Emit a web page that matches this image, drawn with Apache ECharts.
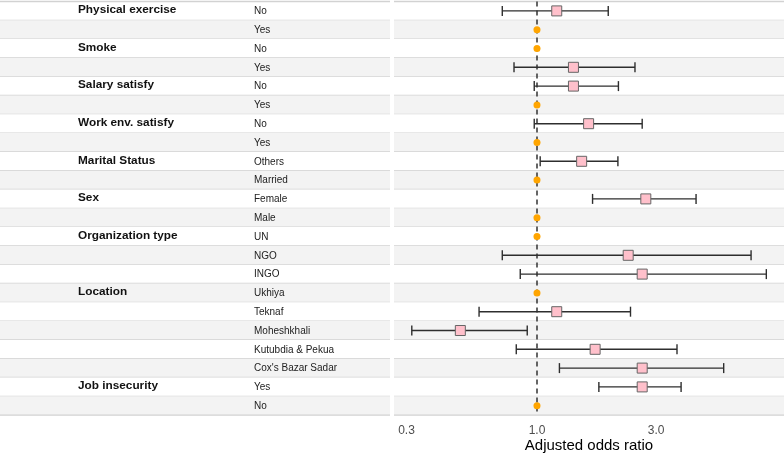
<!DOCTYPE html>
<html>
<head>
<meta charset="utf-8">
<script src="https://cdn.jsdelivr.net/npm/echarts@6/dist/echarts.min.js"></script>
<style>
html,body{margin:0;padding:0;background:#fff;}
#chart{width:784px;height:454px;}
</style>
</head>
<body>
<div id="chart"></div>
<script>
const groups = ['Physical exercise','','Smoke','','Salary satisfy','','Work env. satisfy','','Marital Status','','Sex','','Organization type','','','Location','','','','','Job insecurity',''];
const levels = ['No','Yes','No','Yes','No','Yes','No','Yes','Others','Married','Female','Male','UN','NGO','INGO','Ukhiya','Teknaf','Moheshkhali','Kutubdia & Pekua',"Cox's Bazar Sadar",'Yes','No'];
const oddsRatio = [1.20,1,1,1.40,1.40,1,1.61,1,1.51,1,2.73,1,1,2.32,2.64,1,1.20,0.493,1.71,2.64,2.64,1];
const lowerCI = [0.726,null,null,0.809,0.975,null,0.975,null,1.03,null,1.67,null,null,0.726,0.857,null,0.586,0.315,0.826,1.23,1.77,null];
const upperCI = [1.93,null,null,2.47,2.12,null,2.64,null,2.11,null,4.34,null,null,7.21,8.30,null,2.37,0.914,3.64,5.60,3.78,null];
const tickValues = [0.3, 1.0, 3.0];

const FONT = "'Liberation Sans', Arial, sans-serif";
const rowIdx = levels.map((_, i) => i);
const rowNames = levels.map((l, i) => 'r' + i);

function bandRender(xStart, xEnd, withText) {
  return function (params, api) {
    const i = params.dataIndex;
    const p0 = api.coord([xStart, i]);
    const p1 = api.coord([xEnd, i]);
    const h = api.size([0, 1])[1];
    const top = p0[1] - h / 2, bot = p0[1] + h / 2;
    const children = [
      {type: 'rect', shape: {x: p0[0], y: top, width: p1[0] - p0[0], height: h},
       style: {fill: i % 2 ? '#f3f3f3' : '#ffffff'}},
      {type: 'line', shape: {x1: p0[0], y1: bot, x2: p1[0], y2: bot},
       style: {stroke: '#d2d2d2', lineWidth: 1.3}}
    ];
    if (i === 0) {
      children.push({type: 'line', shape: {x1: p0[0], y1: top, x2: p1[0], y2: top},
        style: {stroke: '#d2d2d2', lineWidth: 1.3}});
    }
    if (withText) {
      const g = api.coord([78, i]);
      const l = api.coord([254, i]);
      if (groups[i]) {
        children.push({type: 'text', x: g[0], y: g[1] - 1,
          style: {text: groups[i], fill: '#111', font: 'bold 11.8px ' + FONT, align: 'left', verticalAlign: 'middle'}});
      }
      children.push({type: 'text', x: l[0], y: l[1] + 0.5,
        style: {text: levels[i], fill: '#222', font: '10px ' + FONT, align: 'left', verticalAlign: 'middle'}});
    }
    return {type: 'group', children};
  };
}

const errData = [], ptData = [], refData = [];
rowIdx.forEach(i => {
  if (lowerCI[i] !== null) {
    errData.push([lowerCI[i], upperCI[i], i]);
    ptData.push([oddsRatio[i], i]);
  } else {
    refData.push([oddsRatio[i], i]);
  }
});

const chart = echarts.init(document.getElementById('chart'), null, {renderer: 'canvas'});
chart.setOption({
  animation: false,
  grid: [
    {left: 0, width: 390, top: 1.5, height: 413.6, outerBoundsMode: 'none', containLabel: false},
    {left: 394, right: 0, top: 1.5, height: 413.6, outerBoundsMode: 'none', containLabel: false}
  ],
  xAxis: [
    {gridIndex: 0, type: 'value', min: 0, max: 390, show: false},
    {gridIndex: 1, type: 'log', logBase: 10, min: 0.2673, max: 9.77,
     axisLine: {show: false}, axisTick: {show: false}, splitLine: {show: false},
     axisLabel: {customValues: tickValues, formatter: v => Number(v).toFixed(1),
       color: '#4d4d4d', fontSize: 12, fontFamily: FONT, margin: 10},
     name: 'Adjusted odds ratio', nameLocation: 'middle', nameGap: 31, nameMoveOverlap: false,
     nameTextStyle: {color: '#000', fontSize: 15, fontFamily: FONT, verticalAlign: 'middle'}}
  ],
  yAxis: [
    {gridIndex: 0, type: 'category', data: rowNames, inverse: true,
     axisLine: {show: false}, axisTick: {show: false}, axisLabel: {show: false}, splitLine: {show: false}},
    {gridIndex: 1, type: 'category', data: rowNames, inverse: true,
     axisLine: {show: false}, axisTick: {show: false}, axisLabel: {show: false}, splitLine: {show: false}}
  ],
  series: [
    {type: 'custom', xAxisIndex: 0, yAxisIndex: 0, silent: true, z: 1,
     data: rowIdx.map(i => [0, i]), encode: {x: 0, y: 1},
     renderItem: bandRender(0, 390, true)},
    {type: 'custom', xAxisIndex: 1, yAxisIndex: 1, silent: true, z: 1,
     data: rowIdx.map(i => [1, i]), encode: {x: 0, y: 1},
     renderItem: bandRender(0.2673, 9.77, false)},
    {type: 'custom', xAxisIndex: 1, yAxisIndex: 1, silent: true, z: 3,
     data: errData, encode: {x: [0, 1], y: 2},
     renderItem: function (params, api) {
       const d = errData[params.dataIndex];
       const a = api.coord([d[0], d[2]]);
       const b = api.coord([d[1], d[2]]);
       const st = {stroke: '#2e2e2e', lineWidth: 1.4};
       return {type: 'group', children: [
         {type: 'line', shape: {x1: a[0], y1: a[1], x2: b[0], y2: b[1]}, style: st},
         {type: 'line', shape: {x1: a[0], y1: a[1] - 5, x2: a[0], y2: a[1] + 5}, style: st},
         {type: 'line', shape: {x1: b[0], y1: b[1] - 5, x2: b[0], y2: b[1] + 5}, style: st}
       ]};
     }
    },
    {type: 'scatter', xAxisIndex: 1, yAxisIndex: 1, z: 5, silent: true,
     data: ptData, symbol: 'rect', symbolSize: 10,
     itemStyle: {color: '#FFC0CB', borderColor: '#666', borderWidth: 1, opacity: 1}},
    {type: 'scatter', xAxisIndex: 1, yAxisIndex: 1, z: 5, silent: true,
     data: refData, symbol: 'circle', symbolSize: 7,
     itemStyle: {color: '#FFA500', opacity: 1},
     markLine: {silent: true, symbol: ['none', 'none'], label: {show: false}, z: 2,
       lineStyle: {color: '#333', width: 1.5, type: [5, 4]},
       data: [{xAxis: 1}]}}
  ]
});
</script>
</body>
</html>
